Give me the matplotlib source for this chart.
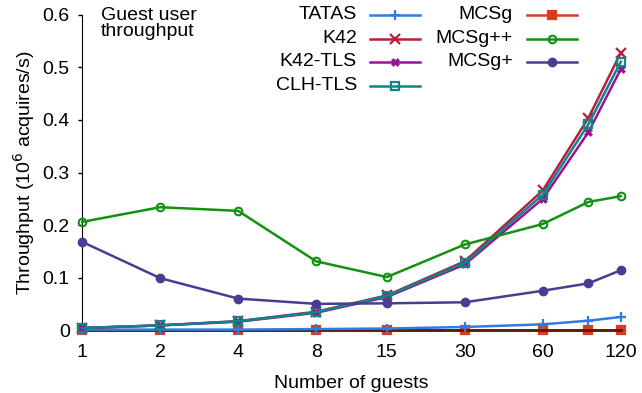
import numpy as np
import matplotlib
matplotlib.use("Agg")
import matplotlib.pyplot as plt
from matplotlib.lines import Line2D

plt.rcParams['font.family'] = ['Liberation Sans', 'DejaVu Sans']
plt.rcParams['font.size'] = 14

# nombre d'invités
guests = [1, 2, 4, 8, 15, 30, 60, 90, 120]
xticks = [1, 2, 4, 8, 15, 30, 60, 120]

# débit (10^6 acquisitions/s)
tatas = [0.001, 0.001, 0.001, 0.002, 0.003, 0.006, 0.011, 0.018, 0.025]
k42 = [0.004, 0.009, 0.017, 0.035, 0.066, 0.131, 0.266, 0.404, 0.528]
k42_tls = [0.004, 0.009, 0.016, 0.033, 0.063, 0.125, 0.250, 0.377, 0.497]
clh_tls = [0.004, 0.009, 0.017, 0.034, 0.065, 0.128, 0.258, 0.392, 0.511]
mcsg = [0.0, 0.0, 0.0, 0.0, 0.0, 0.0, 0.0, 0.0, 0.0]
mcsg_pp = [0.206, 0.234, 0.227, 0.131, 0.101, 0.163, 0.202, 0.244, 0.255]
mcsg_p = [0.168, 0.099, 0.060, 0.050, 0.051, 0.053, 0.075, 0.089, 0.114]

series = [
    ("TATAS", tatas, '#2f7de1', '+', 'full'),
    ("K42", k42, '#b5203e', 'x', 'full'),
    ("K42-TLS", k42_tls, '#9a119a', 'X', 'full'),
    ("CLH-TLS", clh_tls, '#0f8585', 's', 'none'),
    ("MCSg", mcsg, '#d2401f', 's', 'full'),
    ("MCSg++", mcsg_pp, '#119211', 'o', 'none'),
    ("MCSg+", mcsg_p, '#4b3c93', 'o', 'full'),
]


def style(mk):
    if mk == 'X':
        return dict(ms=5.5, mew=0.4)
    if mk in ('+', 'x'):
        return dict(ms=6.5, mew=1.6)
    if mk == 's':
        return dict(ms=5.5, mew=1.6)
    return dict(ms=5.5, mew=1.5)


fig = plt.figure(figsize=(6.42, 3.93), dpi=100)
ax = fig.add_axes([0.128, 0.160, 0.839, 0.802])

for label, vals, col, mk, fill in series:
    z = 2.4 if label == "MCSg" else 3
    ax.plot(guests, vals, color=col, marker=mk, fillstyle=fill, lw=1.8,
            label=label, clip_on=False, zorder=z, **style(mk))

ax.set_xscale('log', base=2)
ax.set_xlim(1, 120)
ax.set_ylim(0, 0.6)
ax.set_xticks(xticks)
ax.set_xticklabels([str(v) for v in xticks])
ax.minorticks_off()
ax.set_yticks([0, 0.1, 0.2, 0.3, 0.4, 0.5, 0.6])
ax.set_yticklabels(['0', '0.1', '0.2', '0.3', '0.4', '0.5', '0.6'])
ax.tick_params(axis='y', direction='out', length=3, width=1, pad=6)
ax.tick_params(axis='x', length=0, pad=10)

ax.spines['top'].set_visible(False)
ax.spines['right'].set_visible(False)
ax.spines['bottom'].set_color('#5a1a0c')
ax.spines['bottom'].set_linewidth(2)

ax.set_xlabel('Number of guests', labelpad=10)
ax.set_ylabel('Throughput (10$^6$ acquires/s)')

ax.text(0.035, 1.025, 'Guest user\nthroughput', transform=ax.transAxes,
        ha='left', va='top', linespacing=0.95)

# légende façon gnuplot : texte aligné à droite, échantillon à droite
col_text = [0.510, 0.800]
col_line = [(0.534, 0.627), (0.826, 0.918)]
rows = [1.0, 0.924, 0.851, 0.775]
for i, (label, vals, col, mk, fill) in enumerate(series):
    c = 0 if i < 4 else 1
    r = i if i < 4 else i - 4
    y = rows[r]
    ax.text(col_text[c], y, label, transform=ax.transAxes,
            ha='right', va='center')
    x0, x1 = col_line[c]
    ax.add_line(Line2D([x0, x1], [y, y], color=col, lw=1.8,
                       transform=ax.transAxes, clip_on=False))
    ax.add_line(Line2D([(x0 + x1) / 2], [y], color=col, marker=mk,
                       fillstyle=fill, transform=ax.transAxes,
                       clip_on=False, **style(mk)))

fig.savefig('out.png', dpi=100)
